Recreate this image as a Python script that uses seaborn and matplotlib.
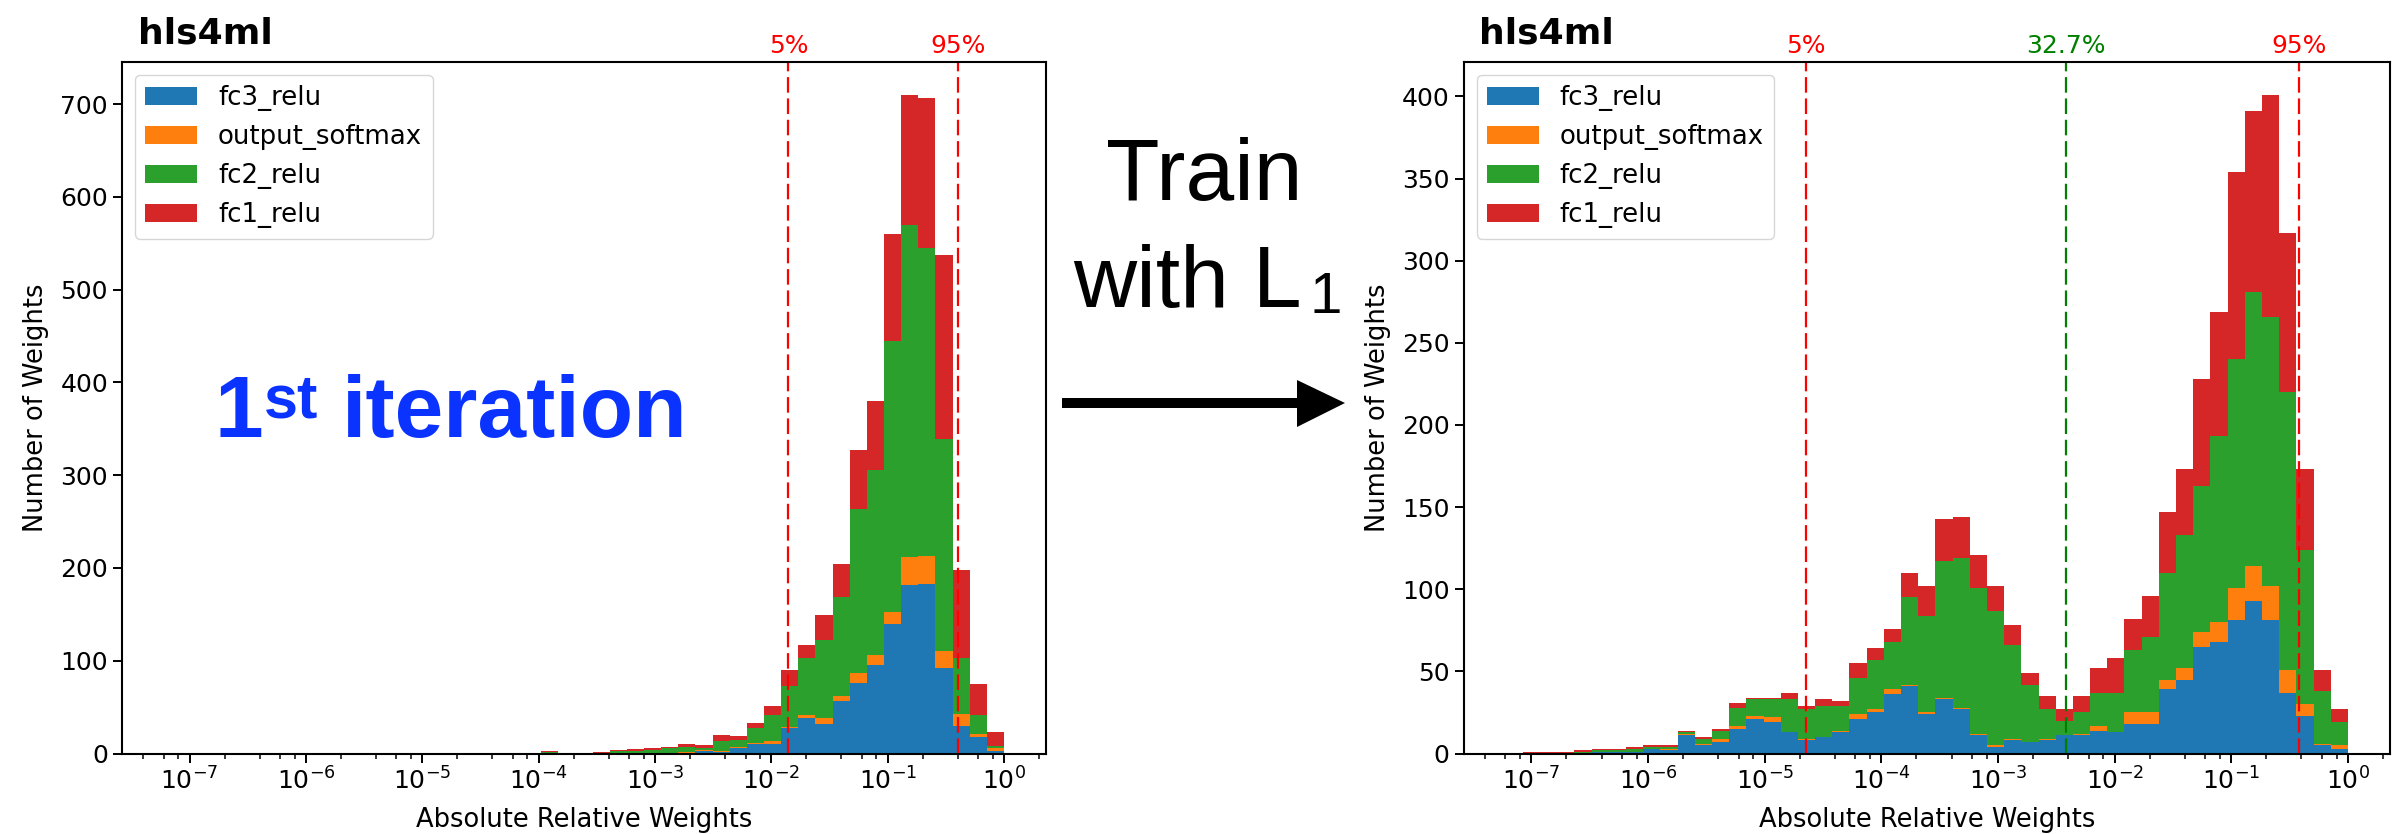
import numpy as np
import pandas as pd
import matplotlib
matplotlib.use("Agg")
import matplotlib.pyplot as plt
from matplotlib.patches import Patch, Polygon
from matplotlib.ticker import LogLocator, NullFormatter
import seaborn as sns

# ---------------- data ----------------
LAYERS = ["fc3_relu", "output_softmax", "fc2_relu", "fc1_relu"]      # legend order (bottom of stack first)
COLORS = ["#1f77b4", "#ff7f0e", "#2ca02c", "#d62728"]

N_BINS = 49
LOG_MIN = -7.22
LOG_MAX = 0.0

# Left panel (1st iteration): counts per log-spaced bin
left_fc3 = [0, 0, 0, 0, 0, 0, 0, 0, 0, 0, 0, 0, 0, 0, 0, 0, 0, 0, 0, 0, 0, 0,
            0, 0, 0, 0, 0, 0, 0, 0, 1, 3, 2, 6, 10, 10, 27, 38, 32, 57, 76, 95, 140, 182, 183, 92, 30, 18, 3]
left_softmax = [0, 0, 0, 0, 0, 0, 0, 0, 0, 0, 0, 0, 0, 0, 0, 0, 0, 0, 0, 0, 0, 0,
                0, 0, 0, 0, 0, 1, 0, 1, 1, 1, 1, 1, 1, 3, 2, 3, 6, 5, 11, 11, 13, 30, 30, 19, 13, 3, 3]
left_fc2 = [0, 0, 0, 0, 0, 0, 0, 0, 0, 0, 0, 0, 0, 0, 0, 0, 0, 0, 0, 0, 0, 0,
            2, 0, 0, 0, 3, 2, 4, 5, 5, 2, 10, 8, 16, 28, 44, 62, 84, 107, 177, 200, 292, 358, 332, 228, 60, 20, 2]
left_fc1 = [0, 0, 0, 0, 0, 0, 0, 0, 0, 0, 0, 0, 0, 0, 0, 0, 0, 0, 0, 0, 0, 0,
            1, 0, 0, 2, 1, 2, 2, 1, 3, 3, 7, 4, 6, 10, 17, 14, 27, 35, 63, 74, 115, 140, 161, 198, 95, 34, 15]

# Right panel (after training with L1)
right_fc3 = [0, 0, 0, 0, 0, 1, 1, 1, 3, 2,
             11, 5, 7, 15, 21, 19, 13, 8, 10, 13,
             21, 25, 36, 41, 24, 33, 27, 11, 4, 8,
             7, 8, 11, 11, 14, 13, 18, 18, 39, 45,
             65, 68, 81, 93, 81, 37, 23, 5, 3]
right_softmax = [0, 0, 0, 0, 0, 0, 0, 0, 0, 1,
                 1, 1, 2, 2, 2, 3, 0, 1, 0, 1,
                 3, 2, 3, 1, 1, 1, 1, 1, 1, 1,
                 0, 1, 0, 1, 3, 0, 7, 7, 6, 7,
                 9, 12, 20, 21, 21, 14, 7, 1, 2]
right_fc2 = [0, 0, 0, 0, 1, 1, 1, 2, 1, 1,
             1, 3, 5, 11, 10, 11, 20, 18, 19, 15,
             22, 30, 29, 53, 59, 83, 91, 89, 82, 57,
             35, 18, 9, 13, 20, 24, 38, 46, 65, 81,
             89, 113, 139, 167, 164, 169, 94, 32, 14]
right_fc1 = [0, 1, 1, 1, 1, 1, 1, 1, 1, 1,
             1, 1, 1, 3, 1, 1, 4, 2, 4, 3,
             9, 7, 8, 15, 18, 26, 25, 20, 15, 12,
             7, 8, 7, 10, 15, 21, 19, 25, 37, 40,
             65, 76, 114, 110, 135, 97, 49, 13, 8]

# percentile markers: (value, label, colour)
left_marks = [(0.01404, "5%", "red"), (0.400, "95%", "red")]
right_marks = [(2.27e-5, "5%", "red"), (3.82e-3, "32.7%", "green"), (0.3796, "95%", "red")]

LEFT_YTICKS = [0, 100, 200, 300, 400, 500, 600, 700]
RIGHT_YTICKS = [0, 50, 100, 150, 200, 250, 300, 350, 400]

TITLE = "hls4ml"
XLABEL = "Absolute Relative Weights"
YLABEL = "Number of Weights"

# ---------------- style ----------------
plt.rcParams.update({
    "font.family": ["DejaVu Sans"],
    "axes.linewidth": 1.5,
    "xtick.major.size": 6.5, "xtick.major.width": 1.4,
    "ytick.major.size": 6.5, "ytick.major.width": 1.4,
    "xtick.minor.size": 3.8, "xtick.minor.width": 1.1,
    "xtick.labelsize": 18, "ytick.labelsize": 18,
})

W, H = 2399, 834
fig = plt.figure(figsize=(W / 100, H / 100), dpi=100)

def fx(px):
    return px / W

def fy(py):
    return 1 - py / H

edges_log = np.linspace(LOG_MIN, LOG_MAX, N_BINS + 1)
centers = 10 ** ((edges_log[:-1] + edges_log[1:]) / 2)
palette = dict(zip(LAYERS, COLORS))
stack_order = LAYERS[::-1]   # seaborn puts the last hue level at the bottom


def make_df(series):
    rows = []
    for name, vals in zip(LAYERS, series):
        for c, v in zip(centers, vals):
            rows.append((c, v, name))
    return pd.DataFrame(rows, columns=["x", "count", "layer"])


def draw_panel(rect, series, marks, yticks):
    ax = fig.add_axes(rect)
    df = make_df(series)
    sns.histplot(data=df, x="x", weights="count", hue="layer", hue_order=stack_order,
                 palette=palette, multiple="stack", bins=N_BINS,
                 binrange=(LOG_MIN, LOG_MAX), log_scale=True,
                 element="bars", alpha=1, linewidth=0, edgecolor="none", shrink=1,
                 legend=False, ax=ax)
    ax.set_yticks(yticks)
    ax.xaxis.set_major_locator(LogLocator(base=10, numticks=20))
    ax.xaxis.set_minor_locator(LogLocator(base=10, subs=[2, 4, 6, 8], numticks=100))
    ax.xaxis.set_minor_formatter(NullFormatter())
    ax.set_xlabel(XLABEL, fontsize=18.5, labelpad=9)
    ax.set_ylabel(YLABEL, fontsize=18.5, labelpad=8)
    for v, lab, col in marks:
        ax.axvline(v, color=col, ls=(0, (7, 2.6)), lw=1.6)
        ax.annotate(lab, xy=(v, 1), xycoords=("data", "axes fraction"),
                    xytext=(0, 3), textcoords="offset points",
                    ha="center", va="bottom", color=col, fontsize=18)
    handles = [Patch(facecolor=c, label=l) for l, c in zip(LAYERS, COLORS)]
    ax.legend(handles=handles, loc="upper left", fontsize=18.7, handlelength=2.0,
              borderaxespad=0.5)
    ax.text(0.017, 1.026, TITLE, transform=ax.transAxes, fontsize=26,
            fontweight="bold", ha="left", va="baseline")
    return ax


axL = draw_panel([fx(122), fy(753.5), fx(924), 691.7 / H],
                 [left_fc3, left_softmax, left_fc2, left_fc1], left_marks, LEFT_YTICKS)
axR = draw_panel([fx(1463.6), fy(753.5), fx(926.4), 691.7 / H],
                 [right_fc3, right_softmax, right_fc2, right_fc1], right_marks, RIGHT_YTICKS)

# ---------------- annotations ----------------
blue = "#0b33ff"
fig.text(fx(215), fy(437), "1", fontsize=63, family="Liberation Sans", fontweight="bold",
         color=blue, ha="left", va="baseline")
fig.text(fx(264), fy(417), "st", fontsize=44, family="Liberation Sans", fontweight="bold",
         color=blue, ha="left", va="baseline")
fig.text(fx(342), fy(437), "iteration", fontsize=63, family="Liberation Sans", fontweight="bold",
         color=blue, ha="left", va="baseline")

fig.text(fx(1204), fy(200), "Train", fontsize=63, family="Liberation Sans",
         color="black", ha="center", va="baseline")
fig.text(fx(1073), fy(307), "with L", fontsize=63, family="Liberation Sans",
         color="black", ha="left", va="baseline")
fig.text(fx(1309), fy(313), "1", fontsize=42, family="Liberation Sans",
         color="black", ha="left", va="baseline")

arrow_px = [(1062, 398), (1297, 398), (1297, 380), (1345, 403),
            (1297, 427), (1297, 408), (1062, 408)]
fig.add_artist(Polygon([(fx(x), fy(y)) for x, y in arrow_px], closed=True,
                       facecolor="black", edgecolor="none", transform=fig.transFigure))

fig.savefig("out.png", dpi=100)
